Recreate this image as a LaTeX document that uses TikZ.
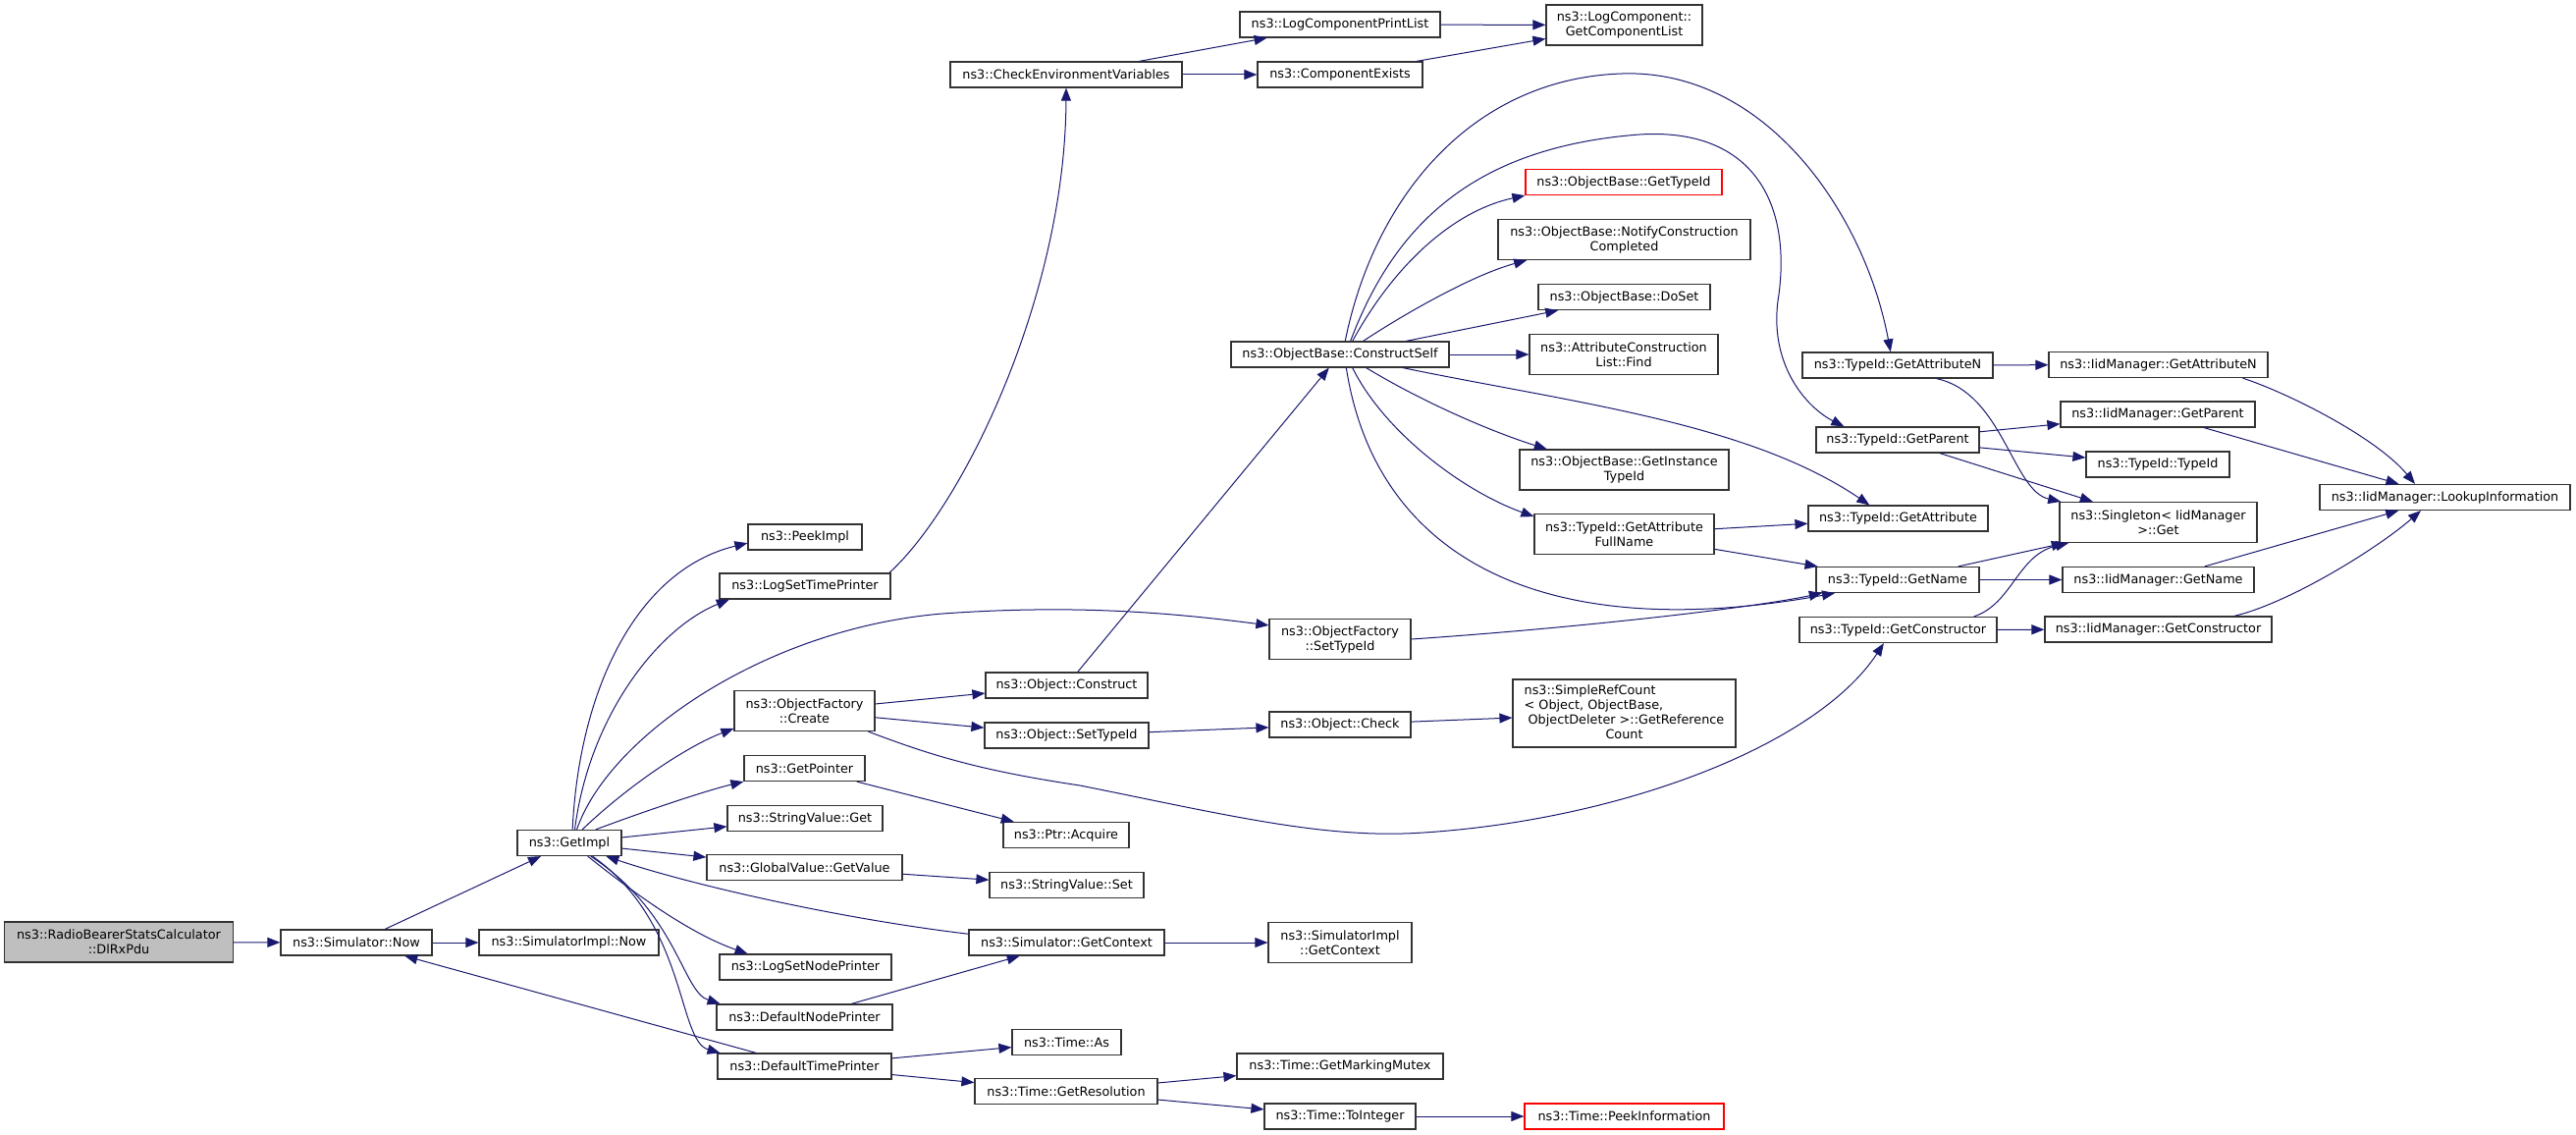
\documentclass[tikz,border=0pt]{standalone}
\usepackage{fontspec}
\setmainfont{DejaVu Sans}
\usetikzlibrary{arrows.meta}
\definecolor{edgeblue}{HTML}{191970}
\definecolor{boxgray}{HTML}{333333}
\definecolor{rootgray}{HTML}{BFBFBF}
\definecolor{truncred}{HTML}{FF0000}
\tikzset{fn/.style={draw=boxgray,line width=1.2pt,fill=white,minimum width=#1,minimum height=26pt,inner sep=0pt,align=center,font=\fontsize{12.8}{15}\selectfont},
         fn2/.style={fn=#1,minimum height=41pt},
         root/.style={fn2=#1,fill=rootgray},
         trunc/.style={fn=#1,draw=truncred},
         ln/.style={->,draw=edgeblue,line width=1pt},
        }

\begin{document}
\begin{tikzpicture}[x=1pt,y=-1pt,>={Triangle[length=13pt,width=10pt]}]
        \useasboundingbox(0,0)rectangle(2624,1156);

        \node[root=233pt](dlrx)at(121,959.5){ns3::RadioBearerStatsCalculator\\::DlRxPdu};
        \node[fn=154pt](simnow)at(363,960){ns3::Simulator::Now};
        \node[fn=183pt](simimplnow)at(579.5,960){ns3::SimulatorImpl::Now};
        \node[fn=106pt](getimpl)at(580,858.5){ns3::GetImpl};

        \node[fn=116pt](peekimpl)at(820,547){ns3::PeekImpl};
        \node[fn=174pt](logsettime)at(820,597){ns3::LogSetTimePrinter};
        \node[fn2=143pt](ofcreate)at(819.5,724){ns3::ObjectFactory\\::Create};
        \node[fn=123pt](getpointer)at(819.5,782.5){ns3::GetPointer};
        \node[fn=158pt](stringget)at(820,833.5){ns3::StringValue::Get};
        \node[fn=199pt](globalget)at(819.5,883.5){ns3::GlobalValue::GetValue};
        \node[fn=175pt](logsetnode)at(820.5,985){ns3::LogSetNodePrinter};
        \node[fn=179pt](defnode)at(819.5,1036){ns3::DefaultNodePrinter};
        \node[fn=177pt](deftime)at(819.5,1086){ns3::DefaultTimePrinter};

        \node[fn=236pt](cev)at(1086,76){ns3::CheckEnvironmentVariables};
        \node[fn=165pt](objconstruct)at(1086.5,698){ns3::Object::Construct};
        \node[fn=167pt](objsettypeid)at(1086.5,749){ns3::Object::SetTypeId};
        \node[fn=128pt](ptracquire)at(1086,850.5){ns3::Ptr::Acquire};
        \node[fn=157pt](stringset)at(1086.5,901.5){ns3::StringValue::Set};
        \node[fn=199pt](simgetctx)at(1086.5,960){ns3::Simulator::GetContext};
        \node[fn=111pt](timeas)at(1086.5,1061.5){ns3::Time::As};
        \node[fn=186pt](timegetres)at(1086,1111.5){ns3::Time::GetResolution};

        \node[fn=204pt](lcprint)at(1365,25){ns3::LogComponentPrintList};
        \node[fn=168pt](compexists)at(1365,76){ns3::ComponentExists};
        \node[fn=222pt](constructself)at(1365,361){ns3::ObjectBase::ConstructSelf};
        \node[fn2=144pt](ofsettypeid)at(1365,651){ns3::ObjectFactory\\::SetTypeId};
        \node[fn=144pt](objcheck)at(1365,738){ns3::Object::Check};
        \node[fn2=146pt](simimplgetctx)at(1365,960){ns3::SimulatorImpl\\::GetContext};
        \node[fn=210pt](timemutex)at(1365,1086){ns3::Time::GetMarkingMutex};
        \node[fn=154pt](timetoint)at(1365,1137){ns3::Time::ToInteger};

        \node[fn2=159pt](getcomplist)at(1654.5,25.5){ns3::LogComponent::\\GetComponentList};
        \node[trunc=200pt](obgettypeid)at(1654,185.5){ns3::ObjectBase::GetTypeId};
        \node[fn2=257pt](notify)at(1654.5,244){ns3::ObjectBase::NotifyConstruction\\Completed};
        \node[fn=175pt](doset)at(1654.5,302.5){ns3::ObjectBase::DoSet};
        \node[fn2=192pt](acfind)at(1654,361){ns3::AttributeConstruction\\List::Find};
        \node[fn2=213pt](getinstance)at(1654.5,478.5){ns3::ObjectBase::GetInstance\\TypeId};
        \node[fn2=183pt](attrfullname)at(1654.5,544){ns3::TypeId::GetAttribute\\FullName};
        \node[fn=227pt,minimum height=69pt](simplerefcount)at(1654.5,726.5){\begin{tabular}{@{}l@{}}ns3::SimpleRefCount\\< Object, ObjectBase,\\\hspace{4pt}ObjectDeleter >::GetReference\\\multicolumn{1}{@{}c@{}}{Count}\end{tabular}};
        \node[trunc=203pt](timepeek)at(1654.5,1137){ns3::Time::PeekInformation};

        \node[fn=194pt](tidgetattrn)at(1933,372){ns3::TypeId::GetAttributeN};
        \node[fn=166pt](tidgetparent)at(1933,448){ns3::TypeId::GetParent};
        \node[fn=183pt](tidgetattr)at(1933.5,528){ns3::TypeId::GetAttribute};
        \node[fn=166pt](tidgetname)at(1933,590.5){ns3::TypeId::GetName};
        \node[fn=201pt](tidgetctor)at(1933.5,641.5){ns3::TypeId::GetConstructor};

        \node[fn=223pt](iidgetattrn)at(2198.5,371.5){ns3::IidManager::GetAttributeN};
        \node[fn=198pt](iidgetparent)at(2198,422){ns3::IidManager::GetParent};
        \node[fn=146pt](tidtypeid)at(2198,473){ns3::TypeId::TypeId};
        \node[fn2=201pt](singleton)at(2198.5,532){ns3::Singleton< IidManager\\ >::Get};
        \node[fn=195pt](iidgetname)at(2198.5,590.5){ns3::IidManager::GetName};
        \node[fn=231pt](iidgetctor)at(2198.5,641){ns3::IidManager::GetConstructor};

        \node[fn=255pt](lookup)at(2490.5,506.5){ns3::IidManager::LookupInformation};

        \draw[ln](dlrx)--(simnow);
        \draw[ln](simnow)--(getimpl);
        \draw[ln](simnow)--(simimplnow);
        \draw[ln](getimpl.77)..controls(590,700)and(650,580)..(peekimpl.186);
        \draw[ln](getimpl.68)..controls(600,730)and(670,640)..(logsettime.190);
        \draw[ln](getimpl.61)..controls(620,750)and(780,640)..(960,625)..controls(1100,615)and(1200,625)..(ofsettypeid.169);
        \draw[ln](getimpl.46)..controls(640,800)and(700,760)..(ofcreate.194);
        \draw[ln](getimpl.27)..controls(660,825)and(720,805)..(getpointer.south west);
        \draw[ln](getimpl)--(stringget);
        \draw[ln](getimpl)--(globalget);
        \draw[ln](getimpl.-36)..controls(640,905)and(700,950)..(logsetnode.167);
        \draw[ln](getimpl.-32)..controls(690,930)and(695,1010)..(defnode.171);
        \draw[ln](getimpl.-30)..controls(700,940)and(690,1060)..(deftime.171);
        \draw[ln](simgetctx.175)..controls(850,935)and(700,900)..(getimpl.-20);
        \draw[ln](deftime)--(simnow);
        \draw[ln](defnode)--(simgetctx);
        \draw[ln](deftime)--(timeas);
        \draw[ln](deftime)--(timegetres);
        \draw[ln](timegetres)--(timemutex);
        \draw[ln](timegetres)--(timetoint);
        \draw[ln](timetoint)--(timepeek);
        \draw[ln](getpointer)--(ptracquire);
        \draw[ln](globalget)--(stringset);
        \draw[ln](simgetctx)--(simimplgetctx);

        \draw[ln](logsettime.9)..controls(982,514)and(1085,300)..(cev.south);
        \draw[ln](cev)--(lcprint);
        \draw[ln](cev)--(compexists);
        \draw[ln](lcprint)--(getcomplist);
        \draw[ln](compexists)--(getcomplist);
        \draw[ln](ofcreate)--(objconstruct);
        \draw[ln](ofcreate)--(objsettypeid);
        \draw[ln](ofcreate.-18)..controls(950,770)and(1000,785)..(1100,800)..controls(1250,830)and(1350,855)..(1450,848)..controls(1650,835)and(1850,760)..(tidgetctor.-137);
        \draw[ln](objconstruct)--(constructself);
        \draw[ln](objsettypeid)--(objcheck);
        \draw[ln](objcheck)--(simplerefcount);
        \draw[ln](ofsettypeid.east)..controls(1600,640)and(1780,620)..(tidgetname.-170);

        \draw[ln](constructself.69)..controls(1400,200)and(1500,80)..(1652,75)..controls(1800,70)and(1900,220)..(tidgetattrn.118);
        \draw[ln](constructself.52)..controls(1420,230)and(1500,150)..(1670,137)..controls(1780,130)and(1825,200)..(1812,300)..controls(1800,370)and(1840,415)..(tidgetparent.166);
        \draw[ln](constructself.47)..controls(1420,270)and(1480,215)..(obgettypeid.south west);
        \draw[ln](constructself.30)..controls(1430,320)and(1500,280)..(notify.192);
        \draw[ln](constructself)--(doset);
        \draw[ln](constructself)--(acfind);
        \draw[ln](constructself.-12)..controls(1600,410)and(1780,430)..(tidgetattr.155);
        \draw[ln](constructself.-27)..controls(1450,410)and(1520,440)..(getinstance.165);
        \draw[ln](constructself.-47)..controls(1410,440)and(1490,500)..(attrfullname.169);
        \draw[ln](constructself.-65)..controls(1400,560)and(1560,660)..(tidgetname.-168);
        \draw[ln](attrfullname)--(tidgetattr);
        \draw[ln](attrfullname)--(tidgetname);

        \draw[ln](tidgetattrn)--(iidgetattrn);
        \draw[ln](tidgetattrn.-19)..controls(2040,400)and(2050,500)..(singleton.168);
        \draw[ln](tidgetparent)--(iidgetparent);
        \draw[ln](tidgetparent)--(tidtypeid);
        \draw[ln](tidgetparent)--(singleton);
        \draw[ln](tidgetname)--(singleton);
        \draw[ln](tidgetname)--(iidgetname);
        \draw[ln](tidgetctor.10)..controls(2050,615)and(2055,565)..(singleton.193);
        \draw[ln](tidgetctor)--(iidgetctor);
        \draw[ln](iidgetattrn.-9)..controls(2330,400)and(2420,445)..(lookup.156);
        \draw[ln](iidgetparent)--(lookup);
        \draw[ln](iidgetname)--(lookup);
        \draw[ln](iidgetctor.10)..controls(2330,615)and(2420,560)..(lookup.209);
    \end{tikzpicture}
\end{document}
